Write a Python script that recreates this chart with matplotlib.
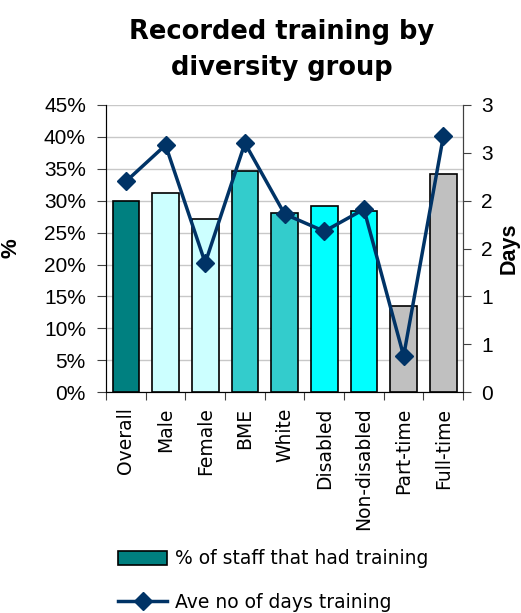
import matplotlib.pyplot as plt
from matplotlib.ticker import FuncFormatter, MultipleLocator
from matplotlib.patches import Patch
from matplotlib.lines import Line2D

# dati
categories = ['Overall', 'Male', 'Female', 'BME', 'White', 'Disabled',
              'Non-disabled', 'Part-time', 'Full-time']
pct_trained = [30.0, 31.2, 27.1, 34.6, 28.1, 29.2, 28.4, 13.5, 34.1]
ave_days = [2.20, 2.58, 1.35, 2.60, 1.86, 1.68, 1.91, 0.38, 2.67]
bar_colors = ['#008080', '#CCFFFF', '#CCFFFF', '#33CCCC', '#33CCCC',
              '#00FFFF', '#00FFFF', '#C0C0C0', '#C0C0C0']

navy = '#003366'
tick_font = 'Liberation Sans'

fig = plt.figure(figsize=(5.21, 6.13), dpi=100)
ax = fig.add_axes([0.2035, 0.360, 0.6855, 0.469])

x = range(len(categories))
ax.bar(x, pct_trained, width=0.67, color=bar_colors, edgecolor='black',
       linewidth=1.2, zorder=2)
ax.set_xlim(-0.5, len(categories) - 0.5)
ax.set_ylim(0, 45)
ax.yaxis.set_major_locator(MultipleLocator(5))
ax.yaxis.set_major_formatter(FuncFormatter(lambda v, p: f'{v:.0f}%'))
ax.grid(axis='y', color='#c8c8c8', linewidth=1, zorder=0)
ax.set_axisbelow(True)

# tick x ai bordi delle categorie
ax.set_xticks([i + 0.5 for i in range(-1, len(categories))])
ax.set_xticklabels([])
ax.set_xticks(list(x), minor=True)
ax.set_xticklabels(categories, minor=True, rotation=90, fontsize=13.5,
                   family='DejaVu Sans')
ax.tick_params(axis='x', which='minor', length=0, pad=11)
ax.tick_params(axis='x', which='major', length=6, direction='out',
               color='#404040')
ax.tick_params(axis='y', length=6.5, direction='out', color='#404040',
               labelsize=15, pad=8)
for t in ax.get_yticklabels():
    t.set_family(tick_font)

ax.spines['top'].set_visible(False)
for s in ['left', 'right', 'bottom']:
    ax.spines[s].set_color('#404040')

ax.set_ylabel('%', fontsize=16, fontweight='bold', family=tick_font)
ax.yaxis.set_label_coords(-0.238, 0.5)

ax2 = ax.twinx()
ax2.plot(list(x), ave_days, color=navy, linewidth=2.5, marker='D',
         markersize=9, zorder=3)
ax2.set_ylim(0, 3)
ax2.yaxis.set_major_locator(MultipleLocator(0.5))
# arrotondamento stile Excel (0.5 -> 1)
ax2.yaxis.set_major_formatter(FuncFormatter(lambda v, p: str(int(v + 0.5 + 1e-9))))
ax2.tick_params(axis='y', length=6, direction='out', color='#404040',
                labelsize=15, pad=7)
for t in ax2.get_yticklabels():
    t.set_family(tick_font)
ax2.spines['top'].set_visible(False)
ax2.spines['right'].set_color('#404040')
ax2.set_ylabel('Days', fontsize=15.5, fontweight='bold', family=tick_font)
ax2.yaxis.set_label_coords(1.098, 0.5)

fig.text(0.54, 0.948, 'Recorded training by', ha='center', va='center',
         fontsize=18.5, fontweight='bold', family='DejaVu Sans')
fig.text(0.54, 0.889, 'diversity group', ha='center', va='center',
         fontsize=18.5, fontweight='bold', family='DejaVu Sans')

handles = [Patch(facecolor='#008080', edgecolor='black', linewidth=1.2),
           Line2D([0], [0], color=navy, linewidth=2.5, marker='D',
                  markersize=9)]
labels = ['% of staff that had training', 'Ave no of days training']
fig.legend(handles, labels, loc='center left', bbox_to_anchor=(0.195, 0.053),
           frameon=False, handlelength=2.6, handleheight=0.8,
           labelspacing=1.3, handletextpad=0.4,
           prop={'family': 'DejaVu Sans', 'size': 13.5})

plt.savefig('out.png', dpi=100)
